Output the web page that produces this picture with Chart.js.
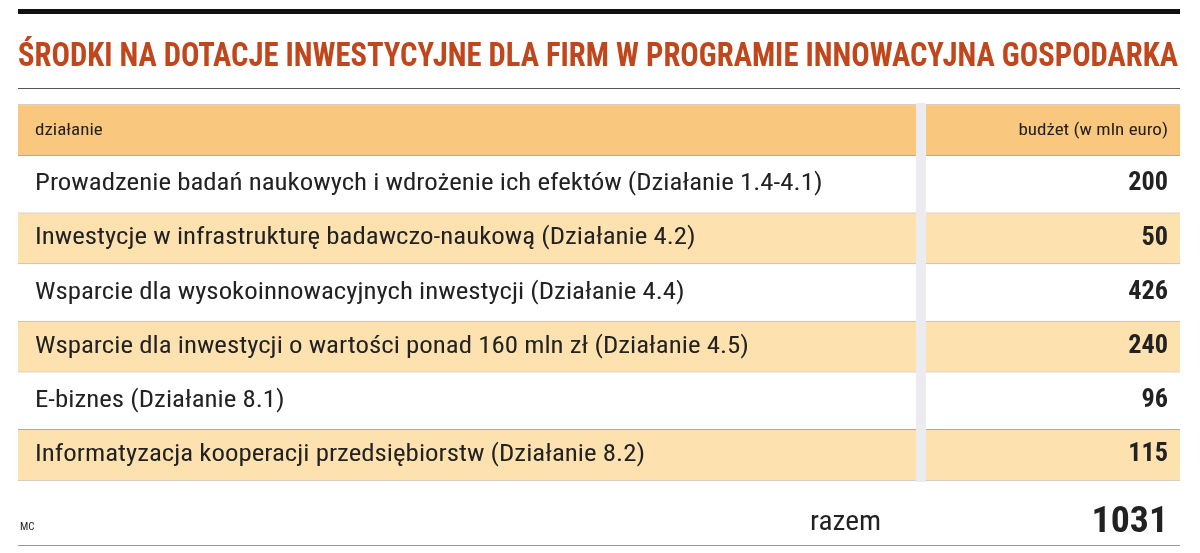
<!DOCTYPE html>
<html><head><meta charset="utf-8">
<script src="https://cdn.jsdelivr.net/npm/chart.js@4"></script>
<style>html,body{margin:0;background:#fff}#w{position:absolute;left:0;top:0;width:1200px;height:553px}</style>
</head><body><div id="w"><canvas id="c"></canvas></div>
<script>
const title = "ŚRODKI NA DOTACJE INWESTYCYJNE DLA FIRM W PROGRAMIE INNOWACYJNA GOSPODARKA";
const headerLabel = "działanie";
const headerValue = "budżet (w mln euro)";
const categories = [
  "Prowadzenie badań naukowych i wdrożenie ich efektów (Działanie 1.4-4.1)",
  "Inwestycje w infrastrukturę badawczo-naukową (Działanie 4.2)",
  "Wsparcie dla wysokoinnowacyjnych inwestycji (Działanie 4.4)",
  "Wsparcie dla inwestycji o wartości ponad 160 mln zł (Działanie 4.5)",
  "E-biznes (Działanie 8.1)",
  "Informatyzacja kooperacji przedsiębiorstw (Działanie 8.2)"
];
const budget = [200, 50, 426, 240, 96, 115];
const totalLabel = "razem";
const total = 1031;
const source = "MC";

const rows = ["__h", ...categories];
const fills = rows.map((r,i)=> i===0 ? "#f9c77d" : (i%2===0 ? "#fde2b0" : "#ffffff"));
const borders = rows.map((r,i)=> i===0 || i%2===0 ? "#b9a894" : "rgba(0,0,0,0)");
const F = '"Liberation Sans Narrow","Roboto Condensed","Open Sans",sans-serif';

function wide(c, txt, x, y, sx, align){
  const w = c.measureText(txt).width*sx;
  const x0 = align==='right' ? x-w : x;
  c.save(); c.textAlign='left'; c.translate(x0,y); c.scale(sx,1); c.fillText(txt,0,0); c.restore();
}

const textPlugin = {
  id:'txt',
  afterDatasetsDraw(ch){
    const c = ch.ctx, y = ch.scales.y, x = ch.scales.x;
    c.save();
    c.fillStyle="#111"; c.fillRect(18,9,1162,5);
    c.font = 'bold 34px '+F; c.fillStyle="#c2461c"; c.textBaseline='alphabetic';
    const tw = c.measureText(title).width;
    c.save(); c.translate(18,66); c.scale(1160/tw,1); c.fillText(title,0,0); c.restore();
    c.fillStyle="#555"; c.fillRect(18,88,1162,1);
    const lx = x.getPixelForValue(0)+17, rx = x.getPixelForValue(100)-12;
    c.textBaseline='middle'; c.fillStyle="#222";
    rows.forEach((r,i)=>{
      const py = y.getPixelForValue(i);
      if(i===0){
        c.font='17px '+F; wide(c,headerLabel,lx,py+1,1.12,'left');
        wide(c,headerValue,rx,py+1,1.12,'right');
      } else {
        c.font='24px '+F; wide(c,r,lx,py,1.12,'left');
        c.font='bold 25px '+F; wide(c,String(budget[i-1]),rx,py,1.05,'right');
      }
    });
    c.textBaseline='alphabetic';
    c.font='11px '+F; c.fillText(source,20,530);
    c.font='28px '+F; wide(c,totalLabel,810,530,1.05,'left');
    c.font='bold 36px '+F; wide(c,String(total),rx,532,1.05,'right');
    c.fillStyle="#999"; c.fillRect(18,545,1162,1);
    c.restore();
  }
};

new Chart(document.getElementById('c'),{
  type:'bar',
  data:{labels:rows,datasets:[
    {data:rows.map(()=>[0,77.3]),backgroundColor:fills,borderColor:borders,borderWidth:{top:1,bottom:1,left:0,right:0},borderSkipped:false,grouped:false,barPercentage:1,categoryPercentage:0.955},
    {data:rows.map(()=>[77.3,78.1]),backgroundColor:"#ececf0",borderWidth:0,grouped:false,barPercentage:1,categoryPercentage:1},
    {data:rows.map(()=>[78.1,100]),backgroundColor:fills,borderColor:borders,borderWidth:{top:1,bottom:1,left:0,right:0},borderSkipped:false,grouped:false,barPercentage:1,categoryPercentage:0.955}
  ]},
  options:{indexAxis:'y',responsive:true,maintainAspectRatio:false,animation:false,
    layout:{padding:{left:18,right:20,top:103,bottom:71}},
    plugins:{legend:{display:false},tooltip:{enabled:false}},
    scales:{x:{type:'linear',min:0,max:100,display:false},y:{display:false,offset:true}}},
  plugins:[textPlugin]
});
</script></body></html>
